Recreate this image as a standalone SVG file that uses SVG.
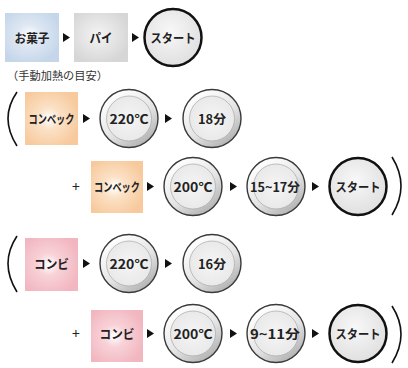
<svg xmlns="http://www.w3.org/2000/svg" width="408" height="368" viewBox="0 0 408 368">
<defs>
<radialGradient id="gBlue" cx="0.45" cy="0.45" r="0.6"><stop offset="0" stop-color="#ffffff"/><stop offset="0.35" stop-color="#dfe8f3"/><stop offset="1" stop-color="#c5d6ea"/></radialGradient>
<radialGradient id="gGray" cx="0.45" cy="0.45" r="0.6"><stop offset="0" stop-color="#f4f4f4"/><stop offset="1" stop-color="#d6d6d6"/></radialGradient>
<radialGradient id="gOrange" cx="0.45" cy="0.5" r="0.6"><stop offset="0" stop-color="#ffffff"/><stop offset="0.35" stop-color="#fbe1c6"/><stop offset="1" stop-color="#f7c99c"/></radialGradient>
<radialGradient id="gPink" cx="0.45" cy="0.5" r="0.6"><stop offset="0" stop-color="#ffffff"/><stop offset="0.35" stop-color="#f8d2d8"/><stop offset="1" stop-color="#f2b6c0"/></radialGradient>
<linearGradient id="gRing" x1="0.2" y1="0.1" x2="0.8" y2="0.95"><stop offset="0" stop-color="#ffffff"/><stop offset="0.55" stop-color="#e4e4e4"/><stop offset="1" stop-color="#b0b0b0"/></linearGradient>
<radialGradient id="gFace" cx="0.5" cy="0.5" r="0.5"><stop offset="0" stop-color="#f5f5f5"/><stop offset="1" stop-color="#e9e9e9"/></radialGradient>
<radialGradient id="gStart" cx="0.45" cy="0.4" r="0.6"><stop offset="0" stop-color="#f8f8f8"/><stop offset="1" stop-color="#e0e0e0"/></radialGradient>
</defs>
<style>
.t{font-family:"Noto Sans CJK JP","Noto Sans",sans-serif;font-weight:bold;font-size:12.5px;fill:#222;text-anchor:middle;dominant-baseline:central}
.s{font-family:"Noto Sans CJK JP","Noto Sans",sans-serif;font-size:11px;fill:#333}
.p{font-family:"Noto Sans CJK JP","Noto Sans",sans-serif;font-size:14px;fill:#222;text-anchor:middle;dominant-baseline:central}
.ring{fill:url(#gRing);stroke:#3a3a3a;stroke-width:1.4}
.face{fill:url(#gFace);stroke:#a8a8a8;stroke-width:0.7}
.start{fill:url(#gStart);stroke:#111;stroke-width:2.5}
.paren{fill:none;stroke:#111;stroke-width:1.6}
.arr{fill:#111}
</style>
<g id="connectors">
<path class="arr" d="M63,33 L70,37.5 L63,42 Z"/>
<path class="arr" d="M132,33 L139,37.5 L132,42 Z"/>
<path class="arr" d="M83,114 L90,118.5 L83,123 Z"/>
<path class="arr" d="M165,114 L172,118.5 L165,123 Z"/>
<path class="arr" d="M147,182 L154,186.5 L147,191 Z"/>
<path class="arr" d="M230,182 L237,186.5 L230,191 Z"/>
<path class="arr" d="M312,182 L319,186.5 L312,191 Z"/>
<path class="arr" d="M83,259 L90,263.5 L83,268 Z"/>
<path class="arr" d="M165,259 L172,263.5 L165,268 Z"/>
<path class="arr" d="M147,329 L154,333.5 L147,338 Z"/>
<path class="arr" d="M230,329 L237,333.5 L230,338 Z"/>
<path class="arr" d="M312,329 L319,333.5 L312,338 Z"/>
<path class="paren" d="M17,92 Q-1,118 17,146"/>
<path class="paren" d="M17,236 Q-1,263 17,292"/>
<path class="paren" d="M392,157 Q410,186 392,215"/>
<path class="paren" d="M392,306 Q410,334 392,363"/>
</g>
<g id="okashi"><rect x="5" y="13" width="54" height="49" fill="url(#gBlue)"/><text class="t" x="32" y="37.5" textLength="35" lengthAdjust="spacingAndGlyphs">お菓子</text></g>
<g id="pie"><rect x="74" y="13" width="54" height="49" fill="url(#gGray)"/><text class="t" x="101" y="37.5" textLength="23" lengthAdjust="spacingAndGlyphs">パイ</text></g>
<g id="start1"><circle class="start" cx="173" cy="37.5" r="28.5"/><text class="t" x="173" y="37.5" textLength="45" lengthAdjust="spacingAndGlyphs">スタート</text></g>
<g id="note"><text class="s" x="7" y="80" textLength="101" lengthAdjust="spacingAndGlyphs">（手動加熱の目安）</text></g>
<g id="convec1"><rect x="25" y="92" width="53" height="53" fill="url(#gOrange)"/><text class="t" x="51.5" y="118.5" textLength="46" lengthAdjust="spacingAndGlyphs">コンベック</text></g>
<g id="temp1"><circle class="ring" cx="129" cy="118.5" r="29"/><circle class="face" cx="129" cy="118.5" r="22.5"/><text class="t" x="129" y="118.5" textLength="39" lengthAdjust="spacingAndGlyphs">220℃</text></g>
<g id="time1"><circle class="ring" cx="212" cy="118.5" r="29"/><circle class="face" cx="212" cy="118.5" r="22.5"/><text class="t" x="212" y="118.5" textLength="28" lengthAdjust="spacingAndGlyphs">18分</text></g>
<g id="plus1"><text class="p" x="76" y="186">+</text></g>
<g id="convec2"><rect x="91" y="161" width="52" height="52" fill="url(#gOrange)"/><text class="t" x="117" y="186.5" textLength="46" lengthAdjust="spacingAndGlyphs">コンベック</text></g>
<g id="temp2"><circle class="ring" cx="193" cy="186.5" r="29"/><circle class="face" cx="193" cy="186.5" r="22.5"/><text class="t" x="193" y="186.5" textLength="39" lengthAdjust="spacingAndGlyphs">200℃</text></g>
<g id="time2"><circle class="ring" cx="276" cy="186.5" r="29"/><circle class="face" cx="276" cy="186.5" r="22.5"/><text class="t" x="275" y="186.5" textLength="50" lengthAdjust="spacingAndGlyphs">15~17分</text></g>
<g id="start2"><circle class="start" cx="358" cy="186.5" r="28.5"/><text class="t" x="358" y="186.5" textLength="45" lengthAdjust="spacingAndGlyphs">スタート</text></g>
<g id="combi1"><rect x="25" y="238" width="53" height="53" fill="url(#gPink)"/><text class="t" x="51.5" y="263.5" textLength="35" lengthAdjust="spacingAndGlyphs">コンビ</text></g>
<g id="temp3"><circle class="ring" cx="129" cy="263.5" r="29"/><circle class="face" cx="129" cy="263.5" r="22.5"/><text class="t" x="129" y="263.5" textLength="39" lengthAdjust="spacingAndGlyphs">220℃</text></g>
<g id="time3"><circle class="ring" cx="212" cy="263.5" r="29"/><circle class="face" cx="212" cy="263.5" r="22.5"/><text class="t" x="212" y="263.5" textLength="28" lengthAdjust="spacingAndGlyphs">16分</text></g>
<g id="plus2"><text class="p" x="76" y="333">+</text></g>
<g id="combi2"><rect x="91" y="310" width="52" height="52" fill="url(#gPink)"/><text class="t" x="117" y="333.5" textLength="35" lengthAdjust="spacingAndGlyphs">コンビ</text></g>
<g id="temp4"><circle class="ring" cx="193" cy="333.5" r="29"/><circle class="face" cx="193" cy="333.5" r="22.5"/><text class="t" x="193" y="333.5" textLength="39" lengthAdjust="spacingAndGlyphs">200℃</text></g>
<g id="time4"><circle class="ring" cx="276" cy="333.5" r="29"/><circle class="face" cx="276" cy="333.5" r="22.5"/><text class="t" x="275" y="333.5" textLength="50" lengthAdjust="spacingAndGlyphs">9~11分</text></g>
<g id="start3"><circle class="start" cx="358" cy="333.5" r="28.5"/><text class="t" x="358" y="333.5" textLength="45" lengthAdjust="spacingAndGlyphs">スタート</text></g>
</svg>
